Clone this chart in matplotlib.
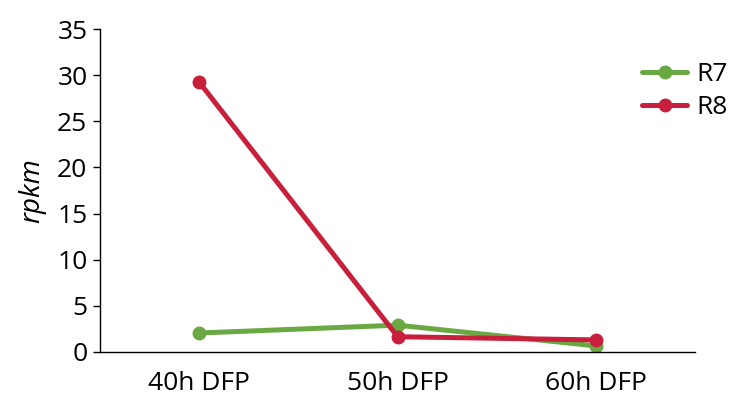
import matplotlib
matplotlib.use("Agg")
import matplotlib.pyplot as plt

plt.rcParams['font.family'] = ['Open Sans', 'DejaVu Sans']

categories = ["40h DFP", "50h DFP", "60h DFP"]
r7 = [2.05, 2.9, 0.65]
r8 = [29.25, 1.65, 1.3]
yticks = [0, 5, 10, 15, 20, 25, 30, 35]

green = "#6AA843"
red = "#C8203C"

fig = plt.figure(figsize=(7.35, 3.99), dpi=100)
ax = fig.add_axes([0.136, 0.118, 0.810, 0.809])

x = [i + 0.5 for i in range(len(categories))]
ax.plot(x, r7, color=green, lw=3.6, marker="o", ms=9, label="R7", solid_capstyle="round")
ax.plot(x, r8, color=red, lw=3.6, marker="o", ms=9, label="R8", solid_capstyle="round")

ax.set_xlim(0, 3)
ax.set_ylim(0, 35)
ax.set_xticks(x)
ax.set_xticklabels(categories, fontsize=19)
ax.set_yticks(yticks)
ax.tick_params(axis="y", labelsize=19, length=5, width=1, direction="out", pad=4)
ax.tick_params(axis="x", length=0, pad=14)
for s in ["top", "right"]:
    ax.spines[s].set_visible(False)
ax.spines["left"].set_linewidth(1)
ax.spines["bottom"].set_linewidth(1)

ax.set_ylabel("rpkm", fontsize=20, style="italic", labelpad=8)

fig.legend(loc="upper left", bbox_to_anchor=(0.874, 0.845), frameon=False, fontsize=19,
           handlelength=1.7, handletextpad=0.35, labelspacing=0.3, borderaxespad=0,
           borderpad=0)

fig.savefig("out.png", dpi=100)
